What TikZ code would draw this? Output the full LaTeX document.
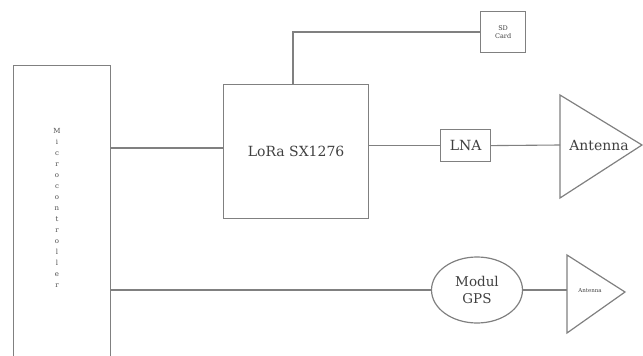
\documentclass[tikz,border=0pt]{standalone}
\usepackage{fontspec}
\setmainfont{DejaVu Serif}
\usetikzlibrary{shapes.geometric}
\begin{document}
\begin{tikzpicture}[x=1pt,y=-1pt,
  line/.style={draw=black!50,line width=1.2pt},
  box/.style={line,rectangle,inner sep=0pt,anchor=north west,text=black!75},
  conn/.style={draw=black!50,line width=1.1pt}]
\useasboundingbox (0,0) rectangle (643,356);
% Microcontroller
\node[box,minimum width=97pt,minimum height=300pt] (mcu) at (13,65) {};
\node[text=black!70,font=\fontsize{7}{11}\selectfont,align=center] (mcutext) at (57,208)
  {M\\i\\c\\r\\o\\c\\o\\n\\t\\r\\o\\l\\l\\e\\r};
% LoRa
\node[box,minimum width=145pt,minimum height=134pt,font=\fontsize{14}{16}\selectfont] (lora) at (223,84) {LoRa SX1276};
% SD card
\node[box,minimum width=45pt,minimum height=41pt,align=center,font=\fontsize{6.5}{8}\selectfont] (sd) at (480,11) {SD\\Card};
% LNA
\node[box,minimum width=50pt,minimum height=32pt,font=\fontsize{14}{16}\selectfont] (lna) at (440,129) {LNA};
% Antenna 1
\draw[line,line join=miter] (560,95) -- (642,145) -- (560,198) -- cycle;
\coordinate (ant1) at (560,145);
\node[text=black!75,font=\fontsize{14}{16}\selectfont] (ant1text) at (599,145) {Antenna};
% GPS
\node[line,ellipse,minimum width=91pt,minimum height=66pt,inner sep=0pt,align=center,text=black!75,font=\fontsize{13.5}{17}\selectfont] (gps) at (477,290) {Modul\\GPS};
% Antenna 2
\draw[line,line join=miter] (567,255) -- (625,292) -- (567,333) -- cycle;
\coordinate (ant2) at (567,291);
\node[text=black!75,font=\fontsize{5.5}{6}\selectfont] (ant2text) at (590,291) {Antenna};
% connectors
\draw[conn] (mcu.east |- 0,148) -- (lora.west |- 0,148);
\draw[conn] (mcu.east |- gps.west) -- (gps.west);
\draw[conn] (lora.east |- lna.west) -- (lna.west);
\draw[conn] (lna.east) -- (ant1);
\draw[conn] (gps.east) -- (ant2 |- gps.east);
\draw[conn] (lora.north -| 293,0) -- (293,32) -- (sd.west |- 0,32);
\end{tikzpicture}
\end{document}
